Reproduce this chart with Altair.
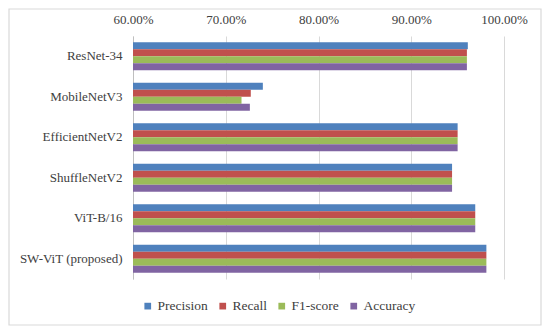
import altair as alt
import pandas as pd

models = ["ResNet-34", "MobileNetV3", "EfficientNetV2", "ShuffleNetV2", "ViT-B/16", "SW-ViT (proposed)"]
metrics = ["Precision", "Recall", "F1-score", "Accuracy"]
precision = [0.961, 0.740, 0.950, 0.944, 0.969, 0.981]
recall    = [0.960, 0.727, 0.950, 0.944, 0.969, 0.981]
f1score   = [0.960, 0.717, 0.950, 0.944, 0.969, 0.981]
accuracy  = [0.960, 0.726, 0.950, 0.944, 0.969, 0.981]
colors = ["#4F81BD", "#C0504D", "#9BBB59", "#8064A2"]

rows = []
for series, vals in zip(metrics, [precision, recall, f1score, accuracy]):
    for m, v in zip(models, vals):
        rows.append({"Model": m, "Metric": series, "Value": v, "Base": 0.6})
df = pd.DataFrame(rows)

W, H = 371, 243
FONT = "Liberation Serif"

bars = alt.Chart(df).mark_bar(cornerRadius=0).encode(
    y=alt.Y("Model:N", sort=models, title=None,
            scale=alt.Scale(paddingInner=0.31, paddingOuter=0.155),
            axis=alt.Axis(ticks=False, domain=True, domainColor="#BFBFBF", labelPadding=11,
                          labelFont=FONT, labelFontSize=13, labelColor="#404040", grid=False)),
    yOffset=alt.YOffset("Metric:N", sort=metrics),
    x=alt.X("Value:Q", title=None,
            scale=alt.Scale(domain=[0.6, 1.0], zero=False, nice=False),
            axis=alt.Axis(orient="top", format=".2%", values=[0.6, 0.7, 0.8, 0.9, 1.0],
                          domain=False, ticks=False, grid=True, gridColor="#D9D9D9",
                          labelFlush=False, labelOverlap=False,
                          labelPadding=10, labelFont=FONT, labelFontSize=13, labelColor="#404040")),
    x2="Base:Q",
    color=alt.Color("Metric:N", sort=metrics, scale=alt.Scale(domain=metrics, range=colors),
                    legend=alt.Legend(title=None, orient="none", direction="horizontal",
                                      legendX=8, legendY=263, symbolType="square",
                                      symbolSize=45, symbolStrokeWidth=0, labelFont=FONT,
                                      labelFontSize=13.5, labelColor="#404040",
                                      columnPadding=8, labelOffset=3)),
)

border = alt.Chart(pd.DataFrame({"a": [0]})).mark_rect(
    fill=None, stroke="#D9D9D9", strokeWidth=1.2
).encode(x=alt.value(-124), x2=alt.value(W + 37), y=alt.value(-27), y2=alt.value(H + 46))

chart = alt.layer(border, bars).properties(
    width=W, height=H,
    autosize=alt.AutoSizeParams(type="none"),
    padding={"left": 125, "top": 28, "right": 38, "bottom": 47},
).configure(background="white", font=FONT
).configure_view(stroke=None
).configure_axis(labelFont=FONT, labelFontSize=13
).configure_legend(labelFont=FONT, labelFontSize=13.5)

chart.save("out.html", embed_options={"renderer": "svg", "actions": False})
